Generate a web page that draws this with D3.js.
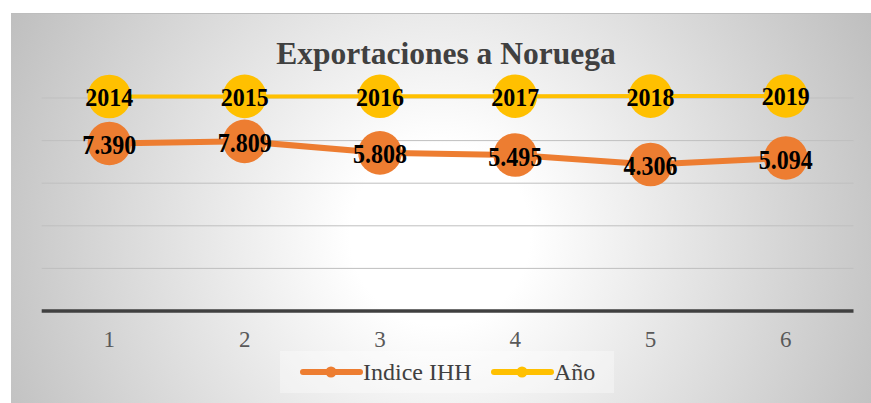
<!DOCTYPE html>
<html>
<head>
<meta charset="utf-8">
<script src="https://cdn.jsdelivr.net/npm/d3@7/dist/d3.min.js"></script>
<style>
  html, body { margin: 0; padding: 0; background: #ffffff; }
  svg { display: block; }
</style>
</head>
<body>
<div id="chart"></div>
<script>
// ---- Data ----
const categories = [1, 2, 3, 4, 5, 6];
const ihhValues = [7390, 7809, 5808, 5495, 4306, 5094];
const ihhLabels = ["7.390", "7.809", "5.808", "5.495", "4.306", "5.094"];
const yearValues = [2014, 2015, 2016, 2017, 2018, 2019];
const yearTicks = [0, 400, 800, 1200, 1600, 2000];
const seriesNames = ["Indice IHH", "Año"];
const title = "Exportaciones a Noruega";

// ---- Layout ----
const W = 871, H = 403;
const chartBox = { x: 11, y: 13, w: W - 11, h: H - 13 };
const plot = { left: 41.7, right: 853.5, bottom: 311 };
const ORANGE = "#ED7D31", YELLOW = "#FFC000";
const serif = "'Liberation Serif', 'Times New Roman', serif";

const svg = d3.select("#chart").append("svg")
  .attr("width", W).attr("height", H);

const defs = svg.append("defs");
const grad = defs.append("radialGradient")
  .attr("id", "bg").attr("gradientUnits", "userSpaceOnUse")
  .attr("cx", 440).attr("cy", 235).attr("r", 500);
grad.append("stop").attr("offset", 0).attr("stop-color", "#ffffff");
grad.append("stop").attr("offset", 0.18).attr("stop-color", "#ffffff");
grad.append("stop").attr("offset", 1).attr("stop-color", "#bcbcbc");

svg.append("rect")
  .attr("x", chartBox.x).attr("y", chartBox.y)
  .attr("width", chartBox.w).attr("height", chartBox.h)
  .attr("fill", "url(#bg)");
svg.append("line")
  .attr("x1", chartBox.x).attr("x2", W)
  .attr("y1", chartBox.y + 0.5).attr("y2", chartBox.y + 0.5)
  .attr("stroke", "#bdbdbd").attr("stroke-width", 1);

// ---- Scales ----
const x = d3.scaleBand().domain(categories).range([plot.left, plot.right]);
const xc = d => x(d) + x.bandwidth() / 2;
const yYear = d3.scaleLinear().domain([0, 2000]).range([plot.bottom, 98]);
const yIHH = d3.scaleLog().domain([100, 100000]).range([plot.bottom, plot.bottom - 3 * 89.65]);

// ---- Gridlines ----
svg.append("g").selectAll("line")
  .data(yearTicks.filter(t => t > 0))
  .join("line")
  .attr("x1", plot.left).attr("x2", plot.right)
  .attr("y1", d => yYear(d)).attr("y2", d => yYear(d))
  .attr("stroke", "#bfbfbf").attr("stroke-width", 1);

// ---- X axis ----
const xAxis = d3.axisBottom(x).tickSize(0).tickPadding(0);
const gx = svg.append("g").attr("transform", `translate(0,${plot.bottom})`).call(xAxis);
gx.select(".domain").remove();
gx.selectAll("text")
  .attr("dy", null).attr("y", 36)
  .attr("font-family", serif).attr("font-size", 23)
  .attr("fill", "#595959");
svg.append("line")
  .attr("x1", plot.left).attr("x2", plot.right)
  .attr("y1", plot.bottom).attr("y2", plot.bottom)
  .attr("stroke", "#404040").attr("stroke-width", 3.5);

// ---- Title ----
svg.append("text")
  .attr("x", 446).attr("y", 63.5)
  .attr("text-anchor", "middle")
  .attr("font-family", serif).attr("font-weight", "bold")
  .attr("font-size", 31.5).attr("fill", "#404040")
  .text(title);

// ---- Series ----
const yearData = categories.map((c, i) => ({ c, v: yearValues[i], label: String(yearValues[i]) }));
const ihhData = categories.map((c, i) => ({ c, v: ihhValues[i], label: ihhLabels[i] }));

function drawSeries(data, yScale, color, width) {
  const line = d3.line().x(d => xc(d.c)).y(d => yScale(d.v));
  svg.append("path").datum(data)
    .attr("d", line).attr("fill", "none")
    .attr("stroke", color).attr("stroke-width", width)
    .attr("stroke-linejoin", "round");
  svg.append("g").selectAll("circle").data(data).join("circle")
    .attr("cx", d => xc(d.c)).attr("cy", d => yScale(d.v))
    .attr("r", 21.8).attr("fill", color);
}
drawSeries(yearData, yYear, YELLOW, 4);
drawSeries(ihhData, yIHH, ORANGE, 6);

// ---- Labels ----
svg.append("g").selectAll("text").data(yearData).join("text")
  .attr("transform", d => `translate(${xc(d.c)},${yYear(d.v) + 1}) scale(1,1.06)`)
  .attr("y", 8)
  .attr("text-anchor", "middle")
  .attr("font-family", serif).attr("font-weight", "bold")
  .attr("font-size", 24).attr("fill", "#000")
  .text(d => d.label);
svg.append("g").selectAll("text").data(ihhData).join("text")
  .attr("transform", d => `translate(${xc(d.c)},${yIHH(d.v) + 1.2}) scale(1,1.18)`)
  .attr("y", 8)
  .attr("text-anchor", "middle")
  .attr("font-family", serif).attr("font-weight", "bold")
  .attr("font-size", 24).attr("fill", "#000")
  .text(d => d.label);

// ---- Legend ----
const legend = svg.append("g");
legend.append("rect")
  .attr("x", 280).attr("y", 351).attr("width", 334).attr("height", 42)
  .attr("fill", "#ffffff").attr("fill-opacity", 0.35);
const legendItems = [
  { name: seriesNames[0], color: ORANGE, x0: 303, tx: 363 },
  { name: seriesNames[1], color: YELLOW, x0: 494, tx: 554 }
];
legendItems.forEach(it => {
  legend.append("line")
    .attr("x1", it.x0).attr("x2", it.x0 + 57)
    .attr("y1", 372).attr("y2", 372)
    .attr("stroke", it.color).attr("stroke-width", 6)
    .attr("stroke-linecap", "round");
  legend.append("circle")
    .attr("cx", it.x0 + 28).attr("cy", 372).attr("r", 5.5)
    .attr("fill", it.color);
  legend.append("text")
    .attr("x", it.tx).attr("y", 380)
    .attr("font-family", serif).attr("font-size", 24)
    .attr("fill", "#404040")
    .text(it.name);
});
</script>
</body>
</html>
